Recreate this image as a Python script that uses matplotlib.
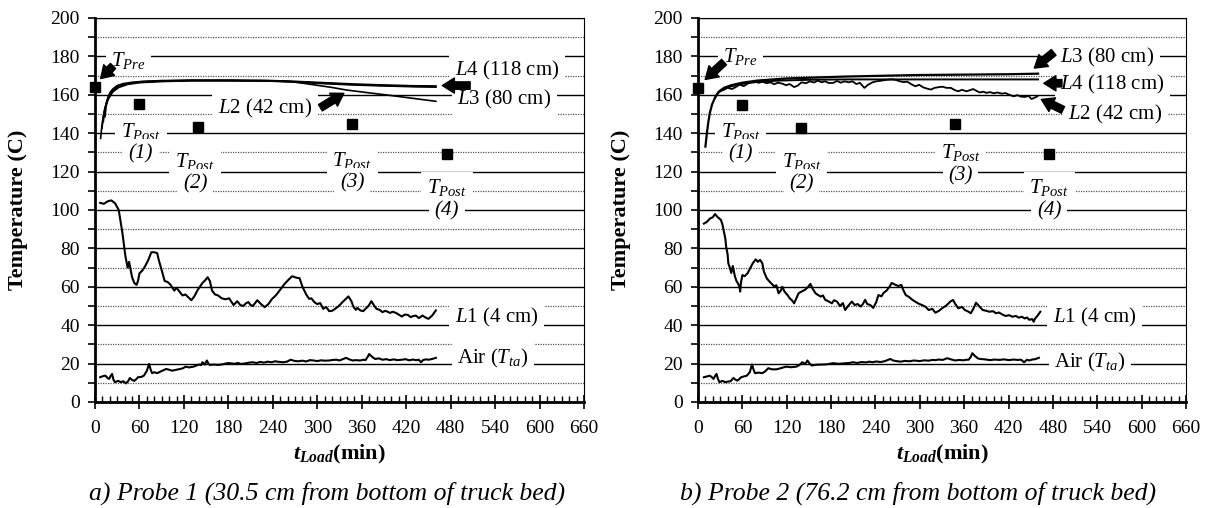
import numpy as np
import matplotlib
matplotlib.use('Agg')
import matplotlib.pyplot as plt
from matplotlib.ticker import MultipleLocator

# Шрифт, похожий на Times New Roman
plt.rcParams['font.family'] = 'Liberation Serif'
plt.rcParams['mathtext.fontset'] = 'custom'
plt.rcParams['mathtext.rm'] = 'Liberation Serif'
plt.rcParams['mathtext.it'] = 'Liberation Serif:italic'
plt.rcParams['mathtext.bf'] = 'Liberation Serif:bold'
plt.rcParams['mathtext.bfit'] = 'Liberation Serif:italic:bold'

# ---------------- Данные: зонд 1 ----------------
# L1 (4 см)
p1_L1_t = [7, 12, 17, 22, 27, 32, 37, 41, 44, 46, 48, 50, 53, 56, 58, 60, 64, 68, 72, 76, 80, 84, 86, 89, 94,
           98, 102, 107, 110, 115, 118, 122, 126, 130, 134, 138, 145, 149, 152, 155, 158, 162, 166, 171, 176,
           181, 187, 192, 196, 200, 204, 207, 210, 213, 216, 219, 224, 229, 234, 239, 244, 249, 256, 262, 266,
           272, 276, 280, 285, 289, 292, 296, 300, 304, 308, 312, 316, 320, 324, 329, 334, 338, 342, 346, 349,
           352, 354, 358, 362, 365, 369, 373, 377, 380, 384, 388, 392, 398, 402, 406, 410, 414, 418, 422, 426,
           429, 433, 437, 442, 446, 450, 455, 460]
p1_L1_v = [103.7, 103.2, 104.5, 105, 103.5, 100, 88, 76, 70, 73, 69, 65, 62, 61, 63, 67, 68.5, 71, 74, 78, 78,
           77.5, 74, 70, 63, 62.5, 61, 58, 59.5, 57, 55.5, 56, 54.5, 53, 55, 58, 62, 63.5, 65, 63, 58, 56, 55.5,
           54, 53.5, 54, 50.5, 52.5, 50.5, 50, 51.5, 52, 50.5, 50, 51.5, 53, 51, 49.4, 51, 53.7, 55.5, 58, 61.6,
           64, 65.5, 64.7, 64.5, 60, 56, 53.7, 54, 52, 51, 51.5, 48.5, 49.5, 47.3, 47.5, 48.5, 50, 52, 53.5, 55,
           52.5, 49.4, 48, 49, 47.7, 47.3, 48.5, 50, 52.5, 50, 48.5, 48, 46.8, 47.5, 46.4, 47, 46.4, 45.5, 44.5,
           45.5, 45.4, 44.2, 44.7, 45, 43.7, 45, 44, 43.3, 45, 47.7]
# Воздух (T_ta)
p1_air_t = [7, 11, 14, 17, 19, 21, 23, 25, 27, 31, 35, 38, 42, 45, 47, 50, 53, 56, 58, 62, 66, 70, 73, 75, 77,
            80, 84, 88, 91, 96, 100, 104, 110, 115, 119, 122, 127, 133, 137, 140, 143, 145, 148, 151, 153, 155,
            160, 166, 172, 178, 182, 188, 193, 197, 203, 208, 213, 218, 223, 228, 233, 238, 243, 248, 254, 259,
            264, 269, 274, 280, 285, 290, 295, 300, 305, 310, 316, 321, 326, 330, 335, 339, 343, 348, 352, 358,
            362, 365, 368, 370, 374, 378, 383, 388, 393, 398, 403, 408, 414, 419, 424, 429, 433, 437, 440, 443,
            447, 450, 455, 460]
p1_air_v = [12.9, 13.5, 13.7, 12.5, 12, 13.5, 14.6, 11.5, 10.3, 11, 10.3, 10.8, 9.7, 11, 12.5, 11.5, 11, 12,
            12.9, 13, 13.7, 16.3, 19.8, 17, 15, 15.5, 15, 15.8, 16.3, 17.2, 16.8, 16.3, 16.8, 17.2, 17.6, 18.4,
            18, 18.4, 19, 19.5, 19.2, 20.7, 19.5, 21.6, 20, 19.3, 19.5, 19.3, 19.6, 20.2, 20.2, 19.9, 20.3, 19.8,
            20.1, 20.5, 20.7, 20.3, 20.9, 20.5, 21, 20.7, 21.2, 20.9, 20.7, 21, 22, 21.4, 21.2, 21.5, 21.1, 21.8,
            21.6, 21.3, 21.7, 21.5, 21.6, 21.9, 22, 21.6, 22.4, 23, 22.2, 21.6, 21.8, 21.6, 22, 21.8, 23.5, 25,
            23.5, 22.4, 22.7, 22, 22.3, 21.8, 22.2, 21.8, 22, 22.3, 21.7, 22.1, 21.8, 22, 20.7, 21.9, 22.2, 22,
            22.4, 23]
# Верхние кривые (пучок L4, L2, ..., L3)
p1_c1_t = [13.5, 15, 17, 20, 24, 30, 38, 50, 65, 90, 130, 180, 230, 270, 310, 350, 390, 430, 460]
p1_c1_v = [148.6, 154, 158, 161, 163, 164.8, 165.8, 166.5, 167, 167.4, 167.6, 167.6, 167.5, 167, 166.3, 165.6,
           165.1, 164.7, 164.6]
p1_c2_t = [11.2, 13, 15, 18, 22, 28, 36, 48, 63, 90, 130, 180, 230, 270, 310, 350, 390, 430, 460]
p1_c2_v = [146, 151.5, 155.5, 159, 161.8, 163.9, 165.3, 166.2, 166.8, 167.2, 167.5, 167.5, 167.3, 166.8, 166,
           165.3, 164.8, 164.4, 164.2]
p1_c3_t = [9.4, 11, 13, 16, 20, 26, 34, 46, 62, 90, 130, 180, 230, 270, 310, 350, 390, 430, 460]
p1_c3_v = [142.5, 148, 152.5, 156.5, 160, 162.8, 164.6, 165.9, 166.6, 167.1, 167.4, 167.4, 167.2, 166.6, 165.8,
           165.1, 164.6, 164.2, 164]
p1_c4_t = [7.6, 9, 11, 14, 18, 24, 32, 44, 60, 90, 130, 180, 230, 262, 290, 320, 339, 370, 400, 430, 460]
p1_c4_v = [137.3, 143, 148.5, 153.5, 157.8, 161.5, 163.8, 165.4, 166.3, 166.9, 167.3, 167.3, 167.2, 167, 165.5,
           163.8, 162.5, 161, 159.6, 158.1, 156.6]

# ---------------- Данные: зонд 2 ----------------
p2_L1_t = [8, 12, 16, 20, 23, 26, 29, 31, 33, 35, 37, 38, 40, 41, 43, 45, 47, 49, 50, 52, 54, 56, 57, 58, 60,
           63, 67, 71, 74, 78, 81, 84, 87, 89, 93, 96, 99, 103, 106, 109, 112, 114, 117, 121, 124, 127, 130,
           133, 136, 140, 145, 149, 152, 155, 159, 162, 166, 169, 172, 176, 181, 184, 188, 192, 196, 199, 203,
           208, 212, 216, 220, 223, 226, 229, 233, 237, 241, 244, 248, 251, 255, 259, 262, 266, 271, 275, 278,
           281, 285, 290, 294, 299, 303, 308, 312, 317, 321, 326, 330, 335, 339, 342, 345, 348, 352, 357, 361,
           366, 369, 373, 376, 380, 385, 390, 394, 399, 403, 407, 412, 416, 421, 425, 430, 434, 438, 442, 445,
           448, 452, 454, 456, 459, 463]
p2_L1_v = [92.9, 93.8, 95.5, 96.2, 97.9, 96.5, 95.5, 94.8, 92.5, 88.7, 85, 81, 77, 72.2, 70, 67.2, 70.8, 67,
           65.3, 63, 61.8, 60, 57.5, 62, 66.1, 65.5, 67, 70, 72.2, 74.3, 73, 74, 72.2, 68, 64.4, 63, 61.8, 60.2,
           60.8, 56.6, 58, 60, 57.5, 55.7, 54, 53, 51.4, 54, 56.6, 57.5, 58.5, 60, 61.5, 59, 56.6, 55.8, 54.9,
           55.5, 53.2, 52.5, 51.4, 53, 52.3, 50, 51.5, 47.9, 50, 52.3, 50.5, 51, 49.7, 51, 53.2, 51, 50.5, 49,
           52, 55.7, 55, 56.8, 58, 60, 62, 61.2, 60.4, 61, 58, 55.7, 54.8, 53.2, 52.2, 51.1, 50.5, 49.5, 47.9,
           48.5, 46.5, 47.5, 48.8, 50, 51.4, 52.5, 53.1, 51, 48.8, 49.5, 47.9, 47, 46.2, 49, 51.7, 50, 47.9,
           47.5, 47, 47.3, 46.2, 46.6, 45.5, 44.8, 45.2, 44.4, 44.8, 43.9, 44.4, 43.5, 44, 42.8, 43.2, 41.8,
           43.5, 44.8, 47]
p2_air_t = [8, 12, 16, 19, 21, 23, 25, 27, 29, 33, 37, 40, 44, 48, 50, 53, 56, 58, 62, 66, 70, 73, 75, 77, 82,
            87, 91, 95, 100, 106, 112, 119, 126, 133, 137, 141, 145, 148, 151, 154, 160, 167, 174, 183, 190,
            197, 204, 210, 215, 221, 227, 232, 236, 241, 247, 253, 260, 264, 268, 274, 280, 286, 292, 300, 306,
            312, 317, 321, 326, 331, 337, 342, 348, 353, 359, 363, 366, 369, 371, 375, 379, 382, 388, 395, 401,
            408, 414, 420, 427, 432, 437, 441, 445, 448, 452, 456, 461]
p2_air_v = [12.9, 13.3, 13.7, 12.8, 12, 13.5, 14.6, 12, 10.3, 11, 10.3, 10.6, 10.8, 12.5, 11.8, 11.1, 12,
            12.8, 13.3, 13.7, 15.5, 19.5, 17, 15, 15.3, 15, 16, 17.6, 17, 17, 17.6, 18.4, 18.1, 18.4, 19.2,
            20.7, 19.8, 21.6, 20, 19, 19.4, 19.5, 19.6, 20.2, 19.9, 20.1, 20.3, 20.7, 20.3, 20.8, 20.6, 21,
            20.7, 21.1, 20.8, 21.3, 22.4, 21.6, 21.3, 21, 21.4, 21.2, 21.6, 21.3, 21.7, 21.5, 21.9, 21.8, 22.1,
            21.9, 22.8, 22.2, 21.6, 21.9, 21.7, 22, 22, 23.5, 25.4, 23.8, 22.6, 22.4, 22.2, 21.8, 22.1, 21.9,
            22.2, 21.8, 22.1, 21.9, 22, 20.7, 22, 21.6, 22.1, 22.3, 23]
# Общий крутой подъём + L3 и L4 (гладкие)
p2_L3_t = [10, 12, 14, 16, 19, 23, 28, 35, 45, 60, 80, 120, 160, 200, 260, 300, 360, 420, 460]
p2_L3_v = [133, 140, 146, 150.5, 155, 158.5, 161.6, 163.6, 165, 166.3, 167.4, 168.5, 169, 169.5, 170, 170.3,
           170.5, 170.7, 171]
p2_L4_t = [23, 28, 35, 45, 60, 80, 110, 150, 200, 300, 400, 460]
p2_L4_v = [158.5, 161.4, 163.2, 164.4, 165.7, 166.7, 167.4, 167.8, 168, 168, 168, 168]
# L2 (42 см) с шумом
p2_L2_t = [23, 26, 30, 35, 40, 46, 52, 56, 62, 67, 72, 77, 82, 87, 93, 98, 103, 108, 114, 119, 124, 130, 135,
           140, 146, 151, 157, 162, 167, 172, 177, 183, 188, 193, 198, 204, 209, 214, 219, 225, 230, 236, 241,
           247, 252, 257, 263, 268, 273, 278, 283, 289, 294, 299, 305, 310, 315, 320, 326, 331, 336, 342, 347,
           352, 357, 363, 368, 372, 376, 381, 386, 390, 395, 400, 405, 411, 416, 421, 427, 432, 437, 443, 447,
           451, 455, 459]
p2_L2_v = [158.5, 160.5, 161.8, 162.6, 163.6, 163, 164.2, 165.3, 164.5, 165.8, 166.6, 167, 166.2, 166.8, 166,
           166.5, 165.5, 166.3, 165.8, 165, 165.6, 164, 164.8, 166.5, 166, 167, 166.4, 167.4, 166.5, 167,
           166.1, 166.2, 167.2, 166.3, 167, 166.5, 167, 165.6, 166.2, 163.6, 165.2, 166.5, 167, 167.3, 167.6,
           167.9, 168, 167.7, 167, 166.6, 166.8, 165.4, 164.4, 165.2, 163.8, 163.2, 162.7, 163.6, 164, 164.2,
           163.6, 163.6, 162.5, 161.8, 162.6, 161.8, 162.4, 163, 162.2, 161.2, 161.6, 161, 161.4, 160.8,
           161.2, 160.6, 160.9, 160, 159.2, 159.8, 159, 158.9, 159.5, 157.8, 158.4, 159.2]

# Точечные измерения T_Pre и T_Post
pts_t = [0, 60, 139, 347, 475]
p1_pts_v = [164, 155, 143, 145, 129]
p2_pts_v = [163.5, 154.7, 142.7, 145, 129]

x_ticks = list(range(0, 661, 60))
y_ticks = list(range(0, 201, 20))

captions = ['a) Probe 1 (30.5 cm from bottom of truck bed)',
            'b) Probe 2 (76.2 cm from bottom of truck bed)']

box = dict(facecolor='white', edgecolor='none', pad=4)
arrow_style = dict(arrowstyle='simple,head_width=0.78,head_length=0.62,tail_width=0.38',
                   fc='black', ec='black', mutation_scale=14)
fs = 14      # подписи делений
fa = 15      # подписи кривых


def setup_axis(ax):
    # Оси, сетка и подписи
    ax.set_xlim(0, 660)
    ax.set_ylim(0, 200)
    ax.set_xticks(x_ticks)
    ax.set_yticks(y_ticks)
    ax.xaxis.set_minor_locator(MultipleLocator(10))
    ax.yaxis.set_minor_locator(MultipleLocator(10))
    ax.set_axisbelow(True)
    ax.grid(which='major', axis='y', color='black', lw=1.0)
    ax.grid(which='minor', axis='y', color='#555555', lw=0.9, ls=(0, (1, 1)))
    ax.tick_params(axis='y', which='both', direction='out', length=5, width=1.2, labelsize=fs, pad=6)
    ax.tick_params(axis='x', which='major', direction='inout', length=10, width=1.2, labelsize=fs, pad=8)
    ax.tick_params(axis='x', which='minor', direction='in', length=4, width=1.0)
    ax.spines['left'].set_linewidth(2.0)
    ax.spines['bottom'].set_linewidth(2.0)
    ax.spines['top'].set_linewidth(0.8)
    ax.spines['right'].set_linewidth(0.8)
    ax.set_ylabel('Temperature (C)', fontsize=16, fontweight='bold')
    ax.yaxis.set_label_coords(-0.138, 0.5)
    ax.set_xlabel(r'$\mathbfit{t}_{\mathbfit{Load}}$' + '(min)', fontsize=16, fontweight='bold',
                  va='center')
    ax.xaxis.set_label_coords(0.5, -0.138)


def arrow(ax, tip, tail):
    # Толстая чёрная стрелка поверх подписей
    ax.annotate('', xy=tip, xytext=tail, arrowprops=arrow_style, zorder=6)


def post_label(ax, t, v, n):
    # Подпись T_Post с номером
    ax.text(t, v, r'$T_{Post}$', fontsize=fa, ha='center', va='center', bbox=box)
    ax.text(t, v - 12, '(' + str(n) + ')', fontsize=fa, style='italic', ha='center', va='center', bbox=box)


fig = plt.figure(figsize=(12.15, 5.08), dpi=100)
ax1 = fig.add_axes([0.0782, 0.2087, 0.4025, 0.7559])
ax2 = fig.add_axes([0.5745, 0.2087, 0.4016, 0.7559])

# ---------------- Зонд 1 ----------------
setup_axis(ax1)
lw = 1.5
ax1.plot(p1_L1_t, p1_L1_v, color='black', lw=lw)
ax1.plot(p1_air_t, p1_air_v, color='black', lw=lw)
for tt, vv in [(p1_c1_t, p1_c1_v), (p1_c2_t, p1_c2_v), (p1_c3_t, p1_c3_v), (p1_c4_t, p1_c4_v)]:
    ax1.plot(tt, vv, color='black', lw=1.2)
ax1.plot(pts_t, p1_pts_v, ls='none', marker='s', ms=6.5, color='black', clip_on=False, zorder=5)

ax1.text(22, 178, r'$T_{Pre}$', fontsize=fa, ha='left', va='center', bbox=box)
arrow(ax1, (5, 167.4), (27, 176))
ax1.text(486, 172.5, r'$L4$' + ' (118 cm)', fontsize=fa, ha='left', va='center', bbox=box)
arrow(ax1, (465, 164.8), (510, 164.8))
ax1.text(489, 157.5, r'$L3$' + ' (80 cm)', fontsize=fa, ha='left', va='center', bbox=box)
ax1.text(166, 153, r'$L2$' + ' (42 cm)', fontsize=fa, ha='left', va='center', bbox=box)
arrow(ax1, (339, 161.5), (301, 152.5))
post_label(ax1, 62, 141, 1)
post_label(ax1, 135, 125.5, 2)
post_label(ax1, 347, 126, 3)
post_label(ax1, 475, 111.5, 4)
ax1.text(486, 44.2, r'$L1$' + ' (4 cm)', fontsize=fa, ha='left', va='center', bbox=box)
ax1.text(489, 22.4, 'Air (' + r'$T_{ta}$' + ')', fontsize=fa, ha='left', va='center', bbox=box)

# ---------------- Зонд 2 ----------------
setup_axis(ax2)
ax2.plot(p2_L1_t, p2_L1_v, color='black', lw=lw)
ax2.plot(p2_air_t, p2_air_v, color='black', lw=lw)
ax2.plot(p2_L3_t, p2_L3_v, color='black', lw=1.6)
ax2.plot(p2_L4_t, p2_L4_v, color='black', lw=1.4)
ax2.plot(p2_L2_t, p2_L2_v, color='black', lw=1.3)
ax2.plot(pts_t, p2_pts_v, ls='none', marker='s', ms=6.5, color='black', clip_on=False, zorder=5)

ax2.text(34, 180, r'$T_{Pre}$', fontsize=fa, ha='left', va='center', bbox=box)
arrow(ax2, (7, 167), (38, 178))
ax2.text(490, 179.2, r'$L3$' + ' (80 cm)', fontsize=fa, ha='left', va='center', bbox=box)
arrow(ax2, (452, 173), (484, 183))
ax2.text(490, 165.3, r'$L4$' + ' (118 cm)', fontsize=fa, ha='left', va='center', bbox=box)
arrow(ax2, (464, 166), (496, 166))
ax2.text(501, 149.7, r'$L2$' + ' (42 cm)', fontsize=fa, ha='left', va='center', bbox=box)
arrow(ax2, (461, 158.2), (497, 151.5))
post_label(ax2, 58, 141, 1)
post_label(ax2, 140, 125.5, 2)
post_label(ax2, 355, 129.7, 3)
post_label(ax2, 475, 111.5, 4)
ax2.text(480, 44.2, r'$L1$' + ' (4 cm)', fontsize=fa, ha='left', va='center', bbox=box)
ax2.text(482, 20.5, 'Air (' + r'$T_{ta}$' + ')', fontsize=fa, ha='left', va='center', bbox=box)

# Подписи под графиками
for ax, cap, cx in zip([ax1, ax2], captions, [0.474, 0.45]):
    ax.text(cx, -0.237, cap, transform=ax.transAxes, fontsize=18.5, style='italic', ha='center', va='center')

plt.savefig('out.png', dpi=100)
